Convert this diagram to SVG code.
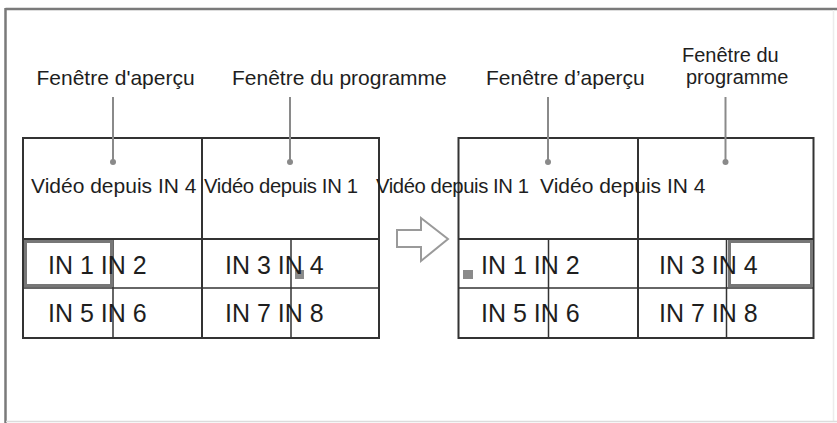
<svg xmlns="http://www.w3.org/2000/svg" width="837" height="423" viewBox="0 0 837 423">
<style>
text{font-family:"Liberation Sans",Arial,sans-serif;fill:#1e1e1e}
.lbl{font-size:21px}
.lbl2{font-size:20px}
.vid{font-size:21px}
.vid2{font-size:20.3px}
.in{font-size:25px}
.tb{stroke:#333;stroke-width:2;fill:none}
.tin{stroke:#333;stroke-width:1.5;fill:none}
.lead{stroke:#8a8a8a;stroke-width:2}
.dot{fill:#8a8a8a}
.hl{stroke:#777;stroke-width:3;fill:none}
.sq{fill:#8a8a8a}
</style>
<rect width="837" height="423" fill="#fff"/>
<g id="frame">
<line x1="5.5" y1="9" x2="837" y2="9" stroke="#7a7a7a" stroke-width="2.5"/>
<line x1="5.5" y1="8" x2="5.5" y2="423" stroke="#7a7a7a" stroke-width="2.5"/>
<line x1="833.5" y1="10" x2="833.5" y2="421" stroke="#ececec" stroke-width="1.5"/>
<line x1="6" y1="421.5" x2="837" y2="421.5" stroke="#dcdcdc" stroke-width="1.5"/>
</g>
<g id="left-table">
<rect class="tb" x="23" y="138" width="356" height="200"/>
<line class="tb" x1="23" y1="239" x2="379" y2="239"/>
<line class="tin" x1="23" y1="288" x2="379" y2="288"/>
<line class="tb" x1="202" y1="138" x2="202" y2="338"/>
<line class="tin" x1="113" y1="239" x2="113" y2="338"/>
<line class="tin" x1="291" y1="239" x2="291" y2="338"/>
<rect class="hl" x="25.5" y="241.5" width="86" height="44"/>
<rect class="sq" x="295" y="270" width="9" height="9"/>
<text class="in" x="48" y="274">IN 1 IN 2</text>
<text class="in" x="225" y="274">IN 3 IN 4</text>
<text class="in" x="48" y="322">IN 5 IN 6</text>
<text class="in" x="225" y="322">IN 7 IN 8</text>
</g>
<g id="right-table">
<rect class="tb" x="458.5" y="138" width="355" height="200"/>
<line class="tb" x1="458.5" y1="239" x2="813.5" y2="239"/>
<line class="tin" x1="458.5" y1="288" x2="813.5" y2="288"/>
<line class="tb" x1="638" y1="138" x2="638" y2="338"/>
<line class="tin" x1="548.5" y1="239" x2="548.5" y2="338"/>
<line class="tin" x1="726.5" y1="239" x2="726.5" y2="338"/>
<rect class="hl" x="729.5" y="241.5" width="82" height="44"/>
<rect class="sq" x="463" y="270" width="10" height="9"/>
<text class="in" x="481" y="274">IN 1 IN 2</text>
<text class="in" x="659" y="274">IN 3 IN 4</text>
<text class="in" x="481" y="322">IN 5 IN 6</text>
<text class="in" x="659" y="322">IN 7 IN 8</text>
</g>
<g id="video-labels">
<text class="vid" x="31" y="193">Vidéo depuis IN 4</text>
<text class="vid2" x="204" y="193" textLength="154">Vidéo depuis IN 1</text>
<text class="vid2" x="376" y="193" textLength="153">Vidéo depuis IN 1</text>
<text class="vid" x="540" y="193">Vidéo depuis IN 4</text>
</g>
<g id="labels">
<text class="lbl" x="36.5" y="85">Fenêtre d'aperçu</text>
<text class="lbl" x="232" y="85">Fenêtre du programme</text>
<text class="lbl" x="486" y="85">Fenêtre d’aperçu</text>
<text class="lbl2" x="682" y="62">Fenêtre du</text>
<text class="lbl2" x="686" y="84">programme</text>
</g>
<g id="connectors">
<line class="lead" x1="113" y1="97" x2="113" y2="162"/>
<circle class="dot" cx="113" cy="162" r="3"/>
<line class="lead" x1="290" y1="97" x2="290" y2="162"/>
<circle class="dot" cx="290" cy="162" r="3"/>
<line class="lead" x1="548" y1="97" x2="548" y2="162"/>
<circle class="dot" cx="548" cy="162" r="3"/>
<line class="lead" x1="725.5" y1="97" x2="725.5" y2="162"/>
<circle class="dot" cx="725.5" cy="162" r="3"/>
<polygon points="397,230 421,230 421,218 448,239 421,261 421,247 397,247" fill="#fff" stroke="#9a9a9a" stroke-width="2" stroke-linejoin="miter"/>
</g>
</svg>
